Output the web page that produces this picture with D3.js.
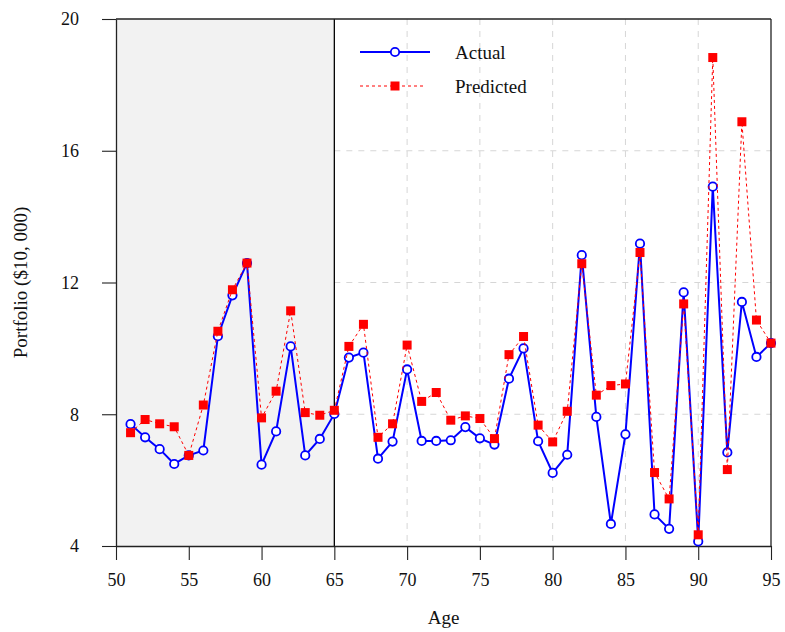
<!DOCTYPE html>
<html>
<head>
<meta charset="utf-8">
<script src="https://cdn.jsdelivr.net/npm/d3@7"></script>
<style>
  body { margin: 0; background: #fff; }
  text { font-family: "Liberation Serif", "DejaVu Serif", serif; fill: #111; }
  .tick text { font-size: 18px; }
</style>
</head>
<body>
<div id="chart"></div>
<script>

var ages = d3.range(51, 96);

var actual = [
  7.70, 7.30, 6.94, 6.49, 6.75, 6.90, 10.37, 11.61, 12.59, 6.47,
  7.48, 10.06, 6.75, 7.25, 8.01, 9.72, 9.87, 6.65, 7.17, 9.36,
  7.19, 7.19, 7.21, 7.61, 7.27, 7.08, 9.08, 10.00, 7.18, 6.22,
  6.77, 12.83, 7.92, 4.67, 7.39, 13.18, 4.96, 4.52, 11.70, 4.14,
  14.91, 6.84, 11.41, 9.74, 10.16
];

var predicted = [
  7.44, 7.84, 7.71, 7.62, 6.75, 8.28, 10.52, 11.78, 12.59, 7.89,
  8.70, 11.14, 8.05, 7.97, 8.12, 10.06, 10.73, 7.30, 7.71, 10.10,
  8.39, 8.66, 7.82, 7.95, 7.87, 7.26, 9.81, 10.36, 7.67, 7.16,
  8.09, 12.57, 8.58, 8.87, 8.92, 12.91, 6.23, 5.43, 11.35, 4.34,
  18.83, 6.32, 16.88, 10.86, 10.16
];

var xTicks = [50, 55, 60, 65, 70, 75, 80, 85, 90, 95];
var yTicks = [4, 8, 12, 16, 20];
var retireAge = 65;

//////////////////////////////////////////////////

var width = 785, height = 632;
var margin = {left: 116, right: 14, top: 19, bottom: 86};
var innerW = width - margin.left - margin.right;
var innerH = height - margin.top - margin.bottom;

var svg = d3.select("#chart").append("svg")
    .attr("width", width)
    .attr("height", height);

var g = svg.append("g")
    .attr("transform", "translate(" + margin.left + "," + margin.top + ")");

var x = d3.scaleLinear().domain([50, 95]).range([0, innerW]);
var y = d3.scaleLinear().domain([4, 20]).range([innerH, 0]);

// grid (dashed, light gray)
g.selectAll(".vgrid")
  .data(xTicks.filter(function(d) { return d > retireAge && d < 95; }))
  .enter().append("line")
    .attr("x1", function(d) { return x(d); })
    .attr("x2", function(d) { return x(d); })
    .attr("y1", 0)
    .attr("y2", innerH)
    .attr("stroke", "#d6d6d6")
    .attr("stroke-width", 1)
    .attr("stroke-dasharray", "6,6");

g.selectAll(".hgrid")
  .data(yTicks.filter(function(d) { return d > 4 && d < 20; }))
  .enter().append("line")
    .attr("x1", x(retireAge))
    .attr("x2", innerW)
    .attr("y1", function(d) { return y(d); })
    .attr("y2", function(d) { return y(d); })
    .attr("stroke", "#d6d6d6")
    .attr("stroke-width", 1)
    .attr("stroke-dasharray", "6,6");

// pre-retirement shaded region
g.append("rect")
  .attr("x", x(50))
  .attr("y", 0)
  .attr("width", x(retireAge) - x(50))
  .attr("height", innerH)
  .attr("fill", "#f2f2f2");

g.append("line")
  .attr("x1", x(retireAge)).attr("x2", x(retireAge))
  .attr("y1", 0).attr("y2", innerH)
  .attr("stroke", "#000")
  .attr("stroke-width", 1.3);

// frame top & right
g.append("line")
  .attr("x1", 0).attr("x2", innerW).attr("y1", 0).attr("y2", 0)
  .attr("stroke", "#222").attr("stroke-width", 1.3);
g.append("line")
  .attr("x1", innerW).attr("x2", innerW).attr("y1", 0).attr("y2", innerH)
  .attr("stroke", "#222").attr("stroke-width", 1.3);

// axes
var xAxis = g.append("g")
  .attr("transform", "translate(0," + innerH + ")")
  .call(d3.axisBottom(x).tickValues(xTicks).tickSize(14).tickPadding(13).tickSizeOuter(0));

var yAxis = g.append("g")
  .call(d3.axisLeft(y).tickValues(yTicks).tickSize(14).tickPadding(23).tickSizeOuter(0));

[xAxis, yAxis].forEach(function(a) {
  a.select(".domain").attr("stroke", "#222").attr("stroke-width", 1.3);
  a.selectAll(".tick line").attr("stroke", "#222").attr("stroke-width", 1.1);
  a.selectAll(".tick text").attr("fill", "#111").style("font-family", "Liberation Serif, serif");
});

// actual series
var lineActual = d3.line()
  .x(function(d, i) { return x(ages[i]); })
  .y(function(d) { return y(d); });

g.append("path")
  .datum(actual)
  .attr("d", lineActual)
  .attr("fill", "none")
  .attr("stroke", "#0000ff")
  .attr("stroke-width", 2);

g.selectAll(".actpt")
  .data(actual)
  .enter().append("circle")
    .attr("cx", function(d, i) { return x(ages[i]); })
    .attr("cy", function(d) { return y(d); })
    .attr("r", 4.2)
    .attr("fill", "#fff")
    .attr("stroke", "#0000ff")
    .attr("stroke-width", 1.8);

// predicted series
g.append("path")
  .datum(predicted)
  .attr("d", lineActual)
  .attr("fill", "none")
  .attr("stroke", "#ff0000")
  .attr("stroke-width", 1)
  .attr("stroke-dasharray", "3,3");

g.selectAll(".predpt")
  .data(predicted)
  .enter().append("rect")
    .attr("x", function(d, i) { return x(ages[i]) - 4.5; })
    .attr("y", function(d) { return y(d) - 4.5; })
    .attr("width", 9)
    .attr("height", 9)
    .attr("fill", "#ff0000");

// legend
var leg = svg.append("g").attr("transform", "translate(360,0)");
leg.append("line")
  .attr("x1", 0).attr("x2", 70).attr("y1", 52).attr("y2", 52)
  .attr("stroke", "#0000ff").attr("stroke-width", 2);
leg.append("circle")
  .attr("cx", 35).attr("cy", 52).attr("r", 4.2)
  .attr("fill", "#fff").attr("stroke", "#0000ff").attr("stroke-width", 1.8);
leg.append("text")
  .attr("x", 95).attr("y", 59)
  .style("font-size", "19px")
  .text("Actual");

leg.append("line")
  .attr("x1", 0).attr("x2", 66).attr("y1", 86).attr("y2", 86)
  .attr("stroke", "#ff0000").attr("stroke-width", 1).attr("stroke-dasharray", "3,3");
leg.append("rect")
  .attr("x", 30.5).attr("y", 81.5).attr("width", 9).attr("height", 9)
  .attr("fill", "#ff0000");
leg.append("text")
  .attr("x", 95).attr("y", 93)
  .style("font-size", "19px")
  .text("Predicted");

// axis titles
svg.append("text")
  .attr("x", margin.left + innerW / 2)
  .attr("y", 624)
  .attr("text-anchor", "middle")
  .style("font-size", "19px")
  .text("Age");

svg.append("text")
  .attr("transform", "translate(27," + (margin.top + innerH / 2) + ") rotate(-90)")
  .attr("text-anchor", "middle")
  .style("font-size", "19px")
  .text("Portfolio ($10, 000)");

</script>
</body>
</html>
